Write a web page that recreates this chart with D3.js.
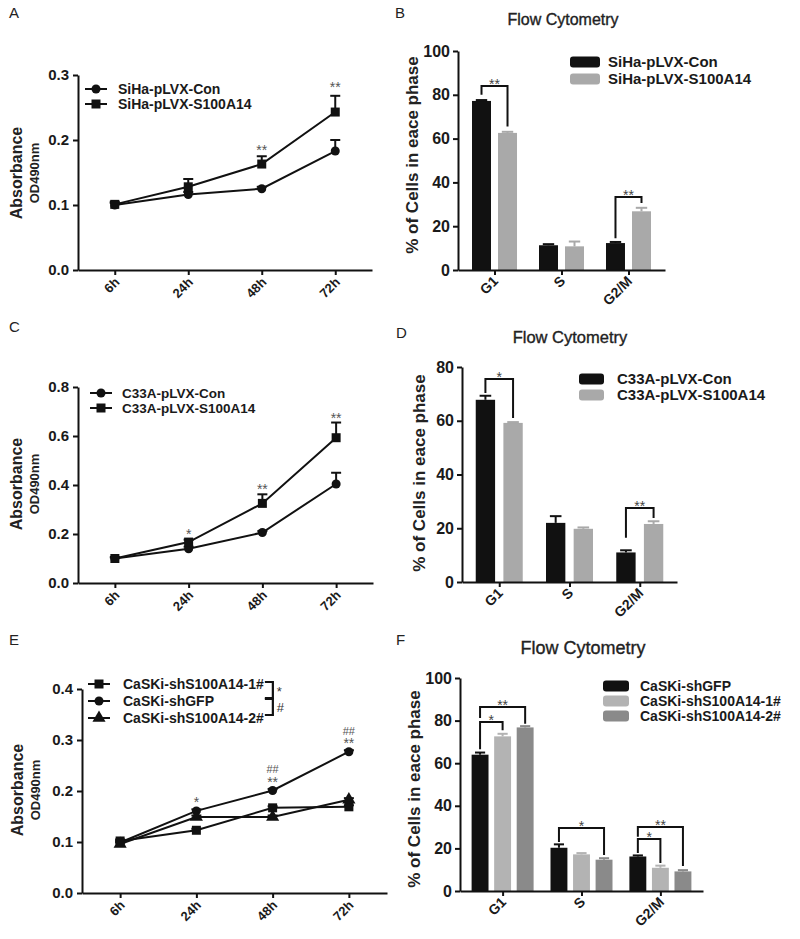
<!DOCTYPE html>
<html><head><meta charset="utf-8">
<script src="https://cdn.jsdelivr.net/npm/d3@7"></script>
<style>body{margin:0;background:#fff} svg{display:block}</style>
</head><body><svg id="chart" width="800" height="939"></svg>
<script>
// ================= DATA =================
const timePoints = ["6h", "24h", "48h", "72h"];
const phases = ["G1", "S", "G2/M"];

// Panel A – SiHa MTT
const aNames = ["SiHa-pLVX-Con", "SiHa-pLVX-S100A14"];
const aCon = [0.100, 0.116, 0.125, 0.183];
const aConErr = [0.003, 0.004, 0.003, 0.017];
const aS100 = [0.101, 0.128, 0.163, 0.243];
const aS100Err = [0.004, 0.012, 0.012, 0.025];
const aYTicks = [0.0, 0.1, 0.2, 0.3];
const aSig = [{t: "48h", v: 0.188, s: "**"}, {t: "72h", v: 0.285, s: "**"}];

// Panel B – SiHa flow cytometry
const bNames = ["SiHa-pLVX-Con", "SiHa-pLVX-S100A14"];
const bCon = [77.2, 11.3, 12.3];
const bConErr = [0.4, 0.5, 0.5];
const bS100 = [62.6, 10.8, 26.8];
const bS100Err = [0.5, 2.2, 1.6];
const bYTicks = [0, 20, 40, 60, 80, 100];
const bSig = [
  {cat: "G1", a: 0, b: 1, top: 84, ya: 80, yb: 65.5, s: "**"},
  {cat: "G2/M", a: 0, b: 1, top: 33.3, ya: 14.5, yb: 30.6, s: "**"}
];

// Panel C – C33A MTT
const cNames = ["C33A-pLVX-Con", "C33A-pLVX-S100A14"];
const cCon = [0.100, 0.140, 0.206, 0.404];
const cConErr = [0.005, 0.008, 0.006, 0.046];
const cS100 = [0.100, 0.167, 0.325, 0.593];
const cS100Err = [0.005, 0.010, 0.037, 0.062];
const cYTicks = [0.0, 0.2, 0.4, 0.6, 0.8];
const cSig = [{t: "24h", v: 0.208, s: "*"}, {t: "48h", v: 0.392, s: "**"}, {t: "72h", v: 0.682, s: "**"}];

// Panel D – C33A flow cytometry
const dNames = ["C33A-pLVX-Con", "C33A-pLVX-S100A14"];
const dCon = [67.8, 22.0, 11.0];
const dConErr = [1.5, 2.5, 0.8];
const dS100 = [59.2, 19.8, 21.6];
const dS100Err = [0.3, 0.5, 1.0];
const dYTicks = [0, 20, 40, 60, 80];
const dSig = [
  {cat: "G1", a: 0, b: 1, top: 75.5, ya: 70.3, yb: 61, s: "*"},
  {cat: "G2/M", a: 0, b: 1, top: 27.5, ya: 16.5, yb: 23.8, s: "**"}
];

// Panel E – CaSKi MTT
const eNames = ["CaSKi-shS100A14-1#", "CaSKi-shGFP", "CaSKi-shS100A14-2#"];
const eSh1 = [0.102, 0.123, 0.167, 0.169];
const eSh1Err = [0.003, 0.003, 0.003, 0.003];
const eGFP = [0.099, 0.161, 0.201, 0.277];
const eGFPErr = [0.003, 0.003, 0.003, 0.003];
const eSh2 = [0.096, 0.149, 0.149, 0.183];
const eSh2Err = [0.003, 0.003, 0.003, 0.003];
const eYTicks = [0.0, 0.1, 0.2, 0.3, 0.4];
const eSig = [
  {t: "24h", v: 0.182, s: "*"},
  {t: "48h", v: 0.2216, s: "**"}, {t: "48h", v: 0.243, s: "##"},
  {t: "72h", v: 0.298, s: "**"}, {t: "72h", v: 0.318, s: "##"}
];
const eLegendSig = ["*", "#"];

// Panel F – CaSKi flow cytometry
const fNames = ["CaSKi-shGFP", "CaSKi-shS100A14-1#", "CaSKi-shS100A14-2#"];
const fGFP = [64.0, 20.3, 16.2];
const fGFPErr = [1.0, 1.6, 0.5];
const fSh1 = [72.6, 17.2, 10.9];
const fSh1Err = [1.2, 0.6, 1.0];
const fSh2 = [76.8, 14.7, 9.2];
const fSh2Err = [0.6, 0.7, 0.6];
const fYTicks = [0, 20, 40, 60, 80, 100];
const fSig = [
  {cat: "G1", a: 0, b: 2, top: 86.4, ya: 81.2, yb: 78.5, s: "**"},
  {cat: "G1", a: 0, b: 1, top: 79.3, ya: 66.5, yb: 75.5, s: "*"},
  {cat: "S", a: 0, b: 2, top: 29.6, ya: 23, yb: 16.9, s: "*"},
  {cat: "G2/M", a: 0, b: 2, top: 30, ya: 25.5, yb: 11.7, s: "**"},
  {cat: "G2/M", a: 0, b: 1, top: 24.4, ya: 17.8, yb: 13.1, s: "*"}
];

const flowTitle = "Flow Cytometry";
const absLabel = "Absorbance";
const odLabel = "OD490nm";
const pctLabel = "% of Cells in eace phase";

// ================= DRAWING =================
const FONT = '"Liberation Sans", Arial, Helvetica, sans-serif';
const svg = d3.select("#chart");
const BLACK = "#111";

function letter(t, x, y) {
  svg.append("text").attr("x", x).attr("y", y).attr("font-family", FONT)
    .attr("font-size", 15).attr("fill", "#222").text(t);
}

function styleAxis(g, fs) {
  g.select(".domain").attr("stroke", BLACK).attr("stroke-width", 2);
  g.selectAll(".tick line").attr("stroke", BLACK).attr("stroke-width", 2);
  g.selectAll(".tick text").attr("font-family", FONT).attr("font-size", fs)
    .attr("font-weight", "bold").attr("fill", "#1a1a1a");
}

function symbolPath(kind) {
  if (kind === "circle") return d3.symbol(d3.symbolCircle, 64)();
  if (kind === "square") return d3.symbol(d3.symbolSquare, 81)();
  return d3.symbol(d3.symbolTriangle, 75)();
}

function drawLinePanel(c) {
  const g = svg.append("g");
  const x = d3.scalePoint(timePoints, [c.x0, c.x1]).padding(0.5);
  const y = d3.scaleLinear([0, c.ymax], [c.yb, c.yt]);

  const ya = g.append("g").attr("transform", `translate(${c.x0},0)`)
    .call(d3.axisLeft(y).tickValues(c.yTicks).tickFormat(d3.format(".1f")).tickSize(5).tickSizeOuter(0).tickPadding(4));
  styleAxis(ya, 15);
  const xa = g.append("g").attr("transform", `translate(0,${c.yb})`)
    .call(d3.axisBottom(x).tickSize(5).tickSizeOuter(0));
  styleAxis(xa, 13);
  xa.selectAll(".tick text").attr("text-anchor", "end").attr("dy", null)
    .attr("transform", "translate(5,13) rotate(-45)").attr("y", 0).attr("x", 0);

  // y label
  g.append("text").attr("transform", `translate(${c.labX},${c.labY}) rotate(-90)`)
    .attr("text-anchor", "middle").attr("font-family", FONT).attr("font-weight", "bold")
    .attr("font-size", 16).attr("fill", "#222").text(absLabel);
  g.append("text").attr("transform", `translate(${c.labX + 17},${c.labY}) rotate(-90)`)
    .attr("text-anchor", "middle").attr("font-family", FONT).attr("font-weight", "bold")
    .attr("font-size", 13).attr("fill", "#222").text(odLabel);

  const line = d3.line().x((d, i) => x(timePoints[i])).y(d => y(d));
  c.series.forEach(s => {
    g.append("path").attr("d", line(s.values)).attr("fill", "none")
      .attr("stroke", BLACK).attr("stroke-width", 2);
  });
  c.series.forEach(s => {
    s.values.forEach((v, i) => {
      const px = x(timePoints[i]), top = y(v + s.errs[i]);
      g.append("line").attr("x1", px).attr("x2", px).attr("y1", y(v)).attr("y2", top)
        .attr("stroke", BLACK).attr("stroke-width", 2);
      g.append("line").attr("x1", px - 5).attr("x2", px + 5).attr("y1", top).attr("y2", top)
        .attr("stroke", BLACK).attr("stroke-width", 2);
    });
  });
  c.series.forEach(s => {
    s.values.forEach((v, i) => {
      g.append("path").attr("d", symbolPath(s.marker))
        .attr("transform", `translate(${x(timePoints[i])},${y(v)})`).attr("fill", BLACK);
    });
  });
  // significance marks
  c.sig.forEach(d => {
    g.append("text").attr("x", x(d.t)).attr("y", y(d.v) + (d.s.includes("#") ? 4 : 7))
      .attr("text-anchor", "middle").attr("font-family", FONT)
      .attr("font-size", d.s.includes("#") ? 11 : 14).attr("fill", "#555").text(d.s);
  });
  // legend
  const ends = [];
  c.series.forEach((s, i) => {
    const ly = c.legY + i * c.legDy;
    g.append("line").attr("x1", c.legX).attr("x2", c.legX + 22).attr("y1", ly).attr("y2", ly)
      .attr("stroke", BLACK).attr("stroke-width", 2);
    g.append("path").attr("d", symbolPath(s.marker)).attr("transform", `translate(${c.legX + 11},${ly})`)
      .attr("fill", BLACK);
    const t = g.append("text").attr("x", c.legX + c.legTx).attr("y", ly).attr("dy", "0.36em")
      .attr("font-family", FONT).attr("font-weight", "bold").attr("font-size", c.legFs)
      .attr("fill", "#1a1a1a").text(s.name);
    ends.push(c.legX + c.legTx + t.node().getComputedTextLength());
  });
  if (c.legendSig) {
    const bx = d3.max(ends) + 9;
    c.legendSig.forEach((s, i) => {
      const y1 = c.legY + i * c.legDy - 2, y2 = c.legY + (i + 1) * c.legDy - 3;
      g.append("path").attr("d", `M${bx - 8},${y1}H${bx}V${y2}H${bx - 8}`)
        .attr("fill", "none").attr("stroke", BLACK).attr("stroke-width", 2.2);
      g.append("text").attr("x", bx + 4).attr("y", (y1 + y2) / 2 + (s === "*" ? 6 : 5))
        .attr("font-family", FONT).attr("font-size", 13).attr("fill", "#333").text(s);
    });
  }
}

function drawBarPanel(c) {
  const g = svg.append("g");
  const x = d3.scalePoint(phases, [c.x0, c.x1]).padding(c.pad);
  const xs = d3.scaleBand(c.series.map((s, i) => i), [-c.gw / 2, c.gw / 2]).paddingInner(c.pin);
  const y = d3.scaleLinear([0, c.ymax], [c.yb, c.yt]);

  // title
  g.append("text").attr("x", c.titleX).attr("y", c.titleY).attr("text-anchor", "middle")
    .attr("font-family", FONT).attr("font-size", c.titleFs).attr("fill", "#222")
    .attr("stroke", "#222").attr("stroke-width", 0.35).text(flowTitle);

  // bars
  c.series.forEach((s, si) => {
    s.values.forEach((v, i) => {
      const bx = x(phases[i]) + xs(si), bw = xs.bandwidth();
      g.append("rect").attr("x", bx).attr("y", y(v)).attr("width", bw).attr("height", y(0) - y(v))
        .attr("fill", s.color);
      const top = y(v + s.errs[i]), cx = bx + bw / 2;
      g.append("line").attr("x1", cx).attr("x2", cx).attr("y1", y(v)).attr("y2", top)
        .attr("stroke", s.color).attr("stroke-width", 2);
      g.append("line").attr("x1", cx - bw * 0.3).attr("x2", cx + bw * 0.3).attr("y1", top).attr("y2", top)
        .attr("stroke", s.color).attr("stroke-width", 2);
    });
  });

  const ya = g.append("g").attr("transform", `translate(${c.x0},0)`)
    .call(d3.axisLeft(y).tickValues(c.yTicks).tickSize(5).tickSizeOuter(0).tickPadding(3));
  styleAxis(ya, 16);
  const xa = g.append("g").attr("transform", `translate(0,${c.yb})`)
    .call(d3.axisBottom(x).tickSize(5).tickSizeOuter(0));
  styleAxis(xa, 14);
  xa.selectAll(".tick text").attr("text-anchor", "end").attr("dy", null)
    .attr("transform", "translate(4,12) rotate(-45)").attr("y", 0).attr("x", 0);

  g.append("text").attr("transform", `translate(${c.labX},${c.labY}) rotate(-90)`)
    .attr("text-anchor", "middle").attr("font-family", FONT).attr("font-weight", "bold")
    .attr("font-size", 17).attr("fill", "#222").text(pctLabel);

  // significance brackets
  c.sig.forEach(d => {
    const bw = xs.bandwidth();
    const xa1 = x(d.cat) + xs(d.a) + bw / 2, xb1 = x(d.cat) + xs(d.b) + bw / 2;
    g.append("path").attr("d", `M${xa1},${y(d.ya)}V${y(d.top)}H${xb1}V${y(d.yb)}`)
      .attr("fill", "none").attr("stroke", BLACK).attr("stroke-width", 2);
    g.append("text").attr("x", (xa1 + xb1) / 2).attr("y", y(d.top) + 3).attr("text-anchor", "middle")
      .attr("font-family", FONT).attr("font-size", 14).attr("fill", "#444").text(d.s);
  });

  // legend
  c.series.forEach((s, i) => {
    const ly = c.legY + i * c.legDy;
    g.append("rect").attr("x", c.legX).attr("y", ly - 5.5).attr("width", c.swW).attr("height", 11)
      .attr("rx", 3).attr("fill", s.color);
    g.append("text").attr("x", c.legTx).attr("y", ly).attr("dy", "0.36em")
      .attr("font-family", FONT).attr("font-weight", "bold").attr("font-size", c.legFs)
      .attr("fill", "#1a1a1a").text(s.name);
  });
}

// ---- panels ----
letter("A", 9, 18); letter("B", 395, 18);
letter("C", 9, 332); letter("D", 396, 338);
letter("E", 9, 645); letter("F", 396, 645);

drawLinePanel({
  x0: 78, x1: 372, yb: 270, yt: 75, ymax: 0.3, yTicks: aYTicks, labX: 22, labY: 173,
  series: [
    {name: aNames[0], values: aCon, errs: aConErr, marker: "circle"},
    {name: aNames[1], values: aS100, errs: aS100Err, marker: "square"}
  ],
  sig: aSig, legX: 85, legY: 89, legDy: 15, legTx: 33, legFs: 14
});

drawBarPanel({
  x0: 458, x1: 665, pad: 0.545, gw: 45, pin: 0.27, yb: 270, yt: 51, ymax: 100, yTicks: bYTicks,
  labX: 418, labY: 155, titleX: 563, titleY: 25, titleFs: 16,
  series: [
    {name: bNames[0], values: bCon, errs: bConErr, color: BLACK},
    {name: bNames[1], values: bS100, errs: bS100Err, color: "#a9a9a9"}
  ],
  sig: bSig, legX: 570, swW: 30, legTx: 608, legY: 62, legDy: 17, legFs: 15
});

drawLinePanel({
  x0: 78, x1: 373, yb: 583, yt: 387, ymax: 0.8, yTicks: cYTicks, labX: 22, labY: 484,
  series: [
    {name: cNames[0], values: cCon, errs: cConErr, marker: "circle"},
    {name: cNames[1], values: cS100, errs: cS100Err, marker: "square"}
  ],
  sig: cSig, legX: 90, legY: 393, legDy: 15, legTx: 32, legFs: 13.5
});

drawBarPanel({
  x0: 462, x1: 677, pad: 0.53, gw: 47, pin: 0.3, yb: 582, yt: 367, ymax: 80, yTicks: dYTicks,
  labX: 425, labY: 473, titleX: 570, titleY: 343, titleFs: 16.5,
  series: [
    {name: dNames[0], values: dCon, errs: dConErr, color: BLACK},
    {name: dNames[1], values: dS100, errs: dS100Err, color: "#a9a9a9"}
  ],
  sig: dSig, legX: 579, swW: 25, legTx: 617, legY: 379, legDy: 16, legFs: 15
});

drawLinePanel({
  x0: 82, x1: 387, yb: 893, yt: 689, ymax: 0.4, yTicks: eYTicks, labX: 23, labY: 790,
  series: [
    {name: eNames[0], values: eSh1, errs: eSh1Err, marker: "square"},
    {name: eNames[1], values: eGFP, errs: eGFPErr, marker: "circle"},
    {name: eNames[2], values: eSh2, errs: eSh2Err, marker: "triangle"}
  ],
  sig: eSig, legX: 88, legY: 684, legDy: 17, legTx: 35, legFs: 14, legendSig: eLegendSig
});

drawBarPanel({
  x0: 460, x1: 703, pad: 0.54, gw: 62, pin: 0.25, yb: 891, yt: 678, ymax: 100, yTicks: fYTicks,
  labX: 420, labY: 789, titleX: 583, titleY: 654, titleFs: 18,
  series: [
    {name: fNames[0], values: fGFP, errs: fGFPErr, color: BLACK},
    {name: fNames[1], values: fSh1, errs: fSh1Err, color: "#b3b3b3"},
    {name: fNames[2], values: fSh2, errs: fSh2Err, color: "#8a8a8a"}
  ],
  sig: fSig, legX: 603, swW: 26, legTx: 640, legY: 686, legDy: 15, legFs: 14
});
</script>
</body></html>
